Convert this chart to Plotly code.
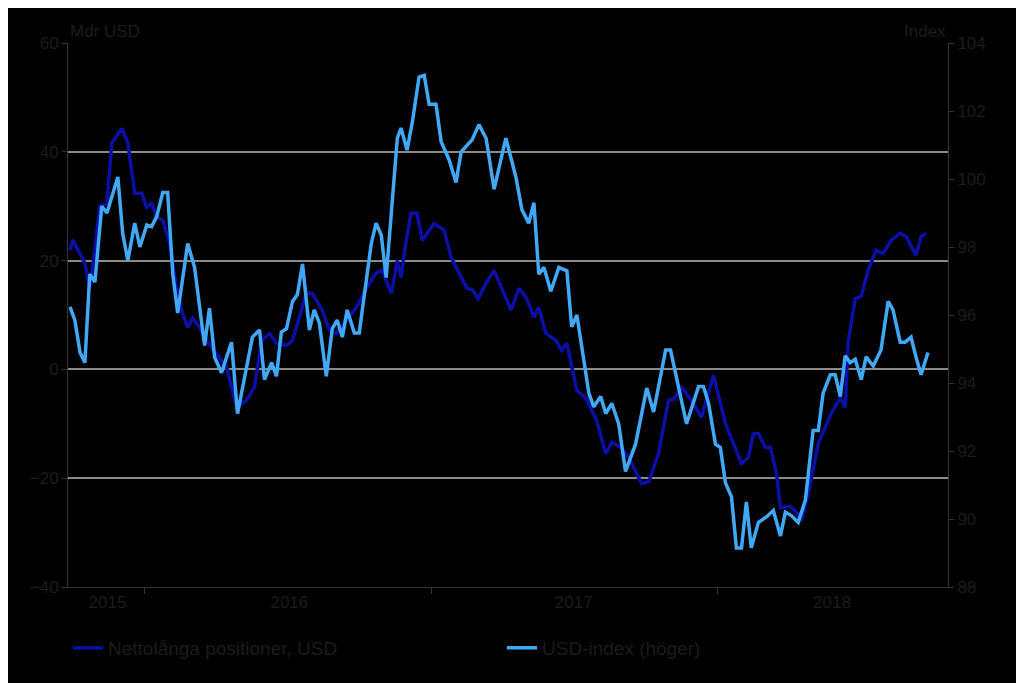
import plotly.graph_objects as go

# Nettolånga positioner (left axis, Mdr USD), x in decimal years
net_t = [2015.739, 2015.749, 2015.791, 2015.808, 2015.826, 2015.843, 2015.868, 2015.885, 2015.920, 2015.941,
         2015.965, 2015.990, 2016.007, 2016.024, 2016.042, 2016.063, 2016.087, 2016.111, 2016.132, 2016.150,
         2016.167, 2016.192, 2016.216, 2016.251, 2016.286, 2016.321, 2016.355, 2016.383, 2016.408, 2016.436,
         2016.460, 2016.495, 2016.516, 2016.540, 2016.564, 2016.585, 2016.620, 2016.645, 2016.669, 2016.704,
         2016.739, 2016.784, 2016.808, 2016.829, 2016.861, 2016.882, 2016.895, 2016.913, 2016.930, 2016.951,
         2016.969, 2017.010, 2017.045, 2017.070, 2017.098, 2017.125, 2017.143, 2017.164, 2017.192, 2017.220,
         2017.247, 2017.279, 2017.307, 2017.331, 2017.359, 2017.376, 2017.401, 2017.436, 2017.456, 2017.474,
         2017.509, 2017.540, 2017.578, 2017.610, 2017.631, 2017.662, 2017.690, 2017.735, 2017.760, 2017.794,
         2017.829, 2017.847, 2017.875, 2017.906, 2017.944, 2017.986, 2018.028, 2018.084, 2018.108, 2018.125,
         2018.143, 2018.167, 2018.185, 2018.206, 2018.220, 2018.254, 2018.272, 2018.293, 2018.317, 2018.352,
         2018.397, 2018.429, 2018.446, 2018.456, 2018.481, 2018.502, 2018.526, 2018.554, 2018.578, 2018.606,
         2018.638, 2018.659, 2018.693, 2018.711, 2018.728]
net_v = [21.9, 23.8, 19.5, 15, 22, 30, 30.5, 41.6, 44.3, 41.6,
         32.4, 32.4, 29.8, 30.5, 28, 27.4, 23.2, 15, 10.3, 7.7,
         9.4, 7.7, 5.3, 2.9, 0.4, -7, -5.7, -3.3, 5.3, 6.6,
         4.8, 4.4, 5.3, 9.6, 14, 14, 10.9, 7.2, 6.6, 9,
         11.4, 15.8, 17.7, 18.2, 14, 20, 16.9, 23.7, 28.7, 28.7,
         23.7, 26.8, 25.6, 20.6, 17.7, 14.9, 14.7, 13, 15.8, 18.2,
         14.9, 10.9, 14.9, 13.3, 9.6, 11.4, 6.6, 5.3, 3.5, 4.8,
         -3.9, -5.2, -9.4, -15.5, -13.4, -14.3, -16.2, -21, -20.6, -15.5,
         -5.7, -5.5, -3.3, -5.5, -8.8, -1.1, -10, -17.3, -16.2, -11.8,
         -11.8, -14.3, -14.3, -19.1, -25.4, -25.2, -26, -27.8, -22.8, -13.6,
         -8.1, -5.2, -7, 4.8, 13, 13.4, 18.2, 21.9, 21.3, 23.7,
         25, 24.4, 21, 24.4, 25]

# USD-index (right axis)
usd_t = [2015.739, 2015.756, 2015.774, 2015.791, 2015.808, 2015.826, 2015.850, 2015.868, 2015.906, 2015.923,
         2015.941, 2015.965, 2015.983, 2016.007, 2016.024, 2016.042, 2016.063, 2016.080, 2016.098, 2016.115,
         2016.150, 2016.174, 2016.209, 2016.226, 2016.244, 2016.268, 2016.303, 2016.324, 2016.376, 2016.401,
         2016.418, 2016.443, 2016.460, 2016.477, 2016.495, 2016.516, 2016.533, 2016.551, 2016.575, 2016.592,
         2016.610, 2016.634, 2016.655, 2016.672, 2016.690, 2016.707, 2016.732, 2016.749, 2016.791, 2016.808,
         2016.826, 2016.843, 2016.882, 2016.895, 2016.916, 2016.934, 2016.958, 2016.976, 2016.993, 2017.017,
         2017.035, 2017.063, 2017.087, 2017.105, 2017.143, 2017.167, 2017.192, 2017.220, 2017.261, 2017.296,
         2017.317, 2017.341, 2017.359, 2017.376, 2017.394, 2017.418, 2017.446, 2017.474, 2017.491, 2017.509,
         2017.551, 2017.568, 2017.592, 2017.610, 2017.631, 2017.655, 2017.679, 2017.714, 2017.753, 2017.777,
         2017.819, 2017.836, 2017.892, 2017.916, 2017.934, 2017.951, 2017.969, 2017.993, 2018.010, 2018.028,
         2018.049, 2018.066, 2018.084, 2018.101, 2018.118, 2018.143, 2018.171, 2018.195, 2018.220, 2018.237,
         2018.258, 2018.282, 2018.307, 2018.334, 2018.352, 2018.369, 2018.394, 2018.411, 2018.429, 2018.446,
         2018.463, 2018.481, 2018.502, 2018.519, 2018.544, 2018.571, 2018.596, 2018.613, 2018.638, 2018.655,
         2018.676, 2018.693, 2018.711, 2018.735]
usd_v = [96.24, 95.85, 94.9, 94.6, 97.2, 96.97, 99.2, 99.0, 100.06, 98.4,
         97.6, 98.7, 98.0, 98.65, 98.6, 98.9, 99.6, 99.6, 97.2, 96.06,
         98.1, 97.4, 95.1, 96.2, 94.76, 94.3, 95.2, 93.1, 95.35, 95.56,
         94.1, 94.6, 94.2, 95.5, 95.6, 96.4, 96.6, 97.5, 95.56, 96.15,
         95.76, 94.2, 95.6, 95.85, 95.35, 96.15, 95.47, 95.47, 98.1, 98.7,
         98.35, 97.1, 101.2, 101.5, 100.85, 101.65, 103.0, 103.05, 102.2, 102.2,
         101.1, 100.56, 99.9, 100.8, 101.15, 101.6, 101.2, 99.7, 101.2, 100.06,
         99.1, 98.7, 99.3, 97.2, 97.4, 96.7, 97.4, 97.3, 95.65, 96.0,
         93.7, 93.3, 93.6, 93.1, 93.4, 92.8, 91.4, 92.2, 93.85, 93.15,
         94.97, 94.97, 92.8, 93.4, 93.9, 93.9, 93.4, 92.2, 92.1, 91.06,
         90.65, 89.15, 89.15, 90.5, 89.15, 89.9, 90.06, 90.25, 89.5, 90.2,
         90.1, 89.9, 90.56, 92.6, 92.6, 93.7, 94.24, 94.24, 93.6, 94.8,
         94.6, 94.7, 94.1, 94.77, 94.5, 94.97, 96.4, 96.15, 95.2, 95.2,
         95.35, 94.77, 94.24, 94.9]

year_labels = ["2015", "2016", "2017", "2018"]
year_label_pos = [2015.87, 2016.505, 2017.498, 2018.40]
year_bounds = [2016, 2017, 2018]

txt = "#1c1c1c"
font = dict(family="Liberation Sans, Arial", size=17, color=txt)

fig = go.Figure()
fig.add_trace(go.Scatter(x=net_t, y=net_v, name="Nettolånga positioner, USD",
                         mode="lines", line=dict(color="#0b0fa5", width=3.5)))
fig.add_trace(go.Scatter(x=usd_t, y=usd_v, name="USD-index (höger)", yaxis="y2",
                         mode="lines", line=dict(color="#40a8f4", width=3.5)))

fig.update_layout(
    width=1024, height=683,
    paper_bgcolor="black", plot_bgcolor="black",
    font=font,
    margin=dict(l=60, r=84, t=35, b=104),
    xaxis=dict(range=[2015.732, 2018.805], tickvals=year_label_pos, ticktext=year_labels,
               ticks="", showgrid=False, zeroline=False, showline=True, linecolor="#333",
               minor=dict(tickvals=year_bounds, ticks="outside", ticklen=6, tickcolor="#333")),
    yaxis=dict(range=[-40, 60], dtick=20, showgrid=True, gridcolor="#8a8a8a", gridwidth=1.5,
               zeroline=False, showline=True, linecolor="#333", ticks="outside", ticklen=5,
               tickcolor="#333"),
    yaxis2=dict(range=[88, 104], dtick=2, overlaying="y", side="right", showgrid=False,
                zeroline=False, showline=True, linecolor="#333", ticks="outside", ticklen=5,
                tickcolor="#333"),
    legend=dict(orientation="h", x=0.0, y=-0.112, xanchor="left", yanchor="middle",
                bgcolor="rgba(0,0,0,0)", font=dict(size=19, color=txt), entrywidth=389),
    showlegend=True,
    annotations=[
        dict(text="Mdr USD", xref="paper", yref="paper", x=0, y=1, xanchor="left",
             yanchor="bottom", showarrow=False, font=font),
        dict(text="Index", xref="paper", yref="paper", x=1, y=1, xanchor="right",
             yanchor="bottom", showarrow=False, font=font),
    ],
)

fig.write_html("out.html")
